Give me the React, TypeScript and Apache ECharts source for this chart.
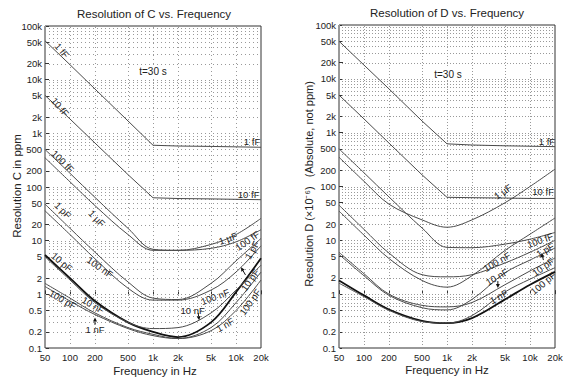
import React, { useEffect, useRef } from "react";
import * as echarts from "echarts";

const FREQ = [50, 100, 200, 500, 1000, 2000, 5000, 10000, 20000];
const X_TICKS = [50, 100, 200, 500, 1000, 2000, 5000, 10000, 20000];
const X_TICK_LABELS = ["50", "100", "200", "500", "1k", "2k", "5k", "10k", "20k"];
const Y_TICKS = [0.1, 0.2, 0.5, 1, 2, 5, 10, 20, 50, 100, 200, 500, 1000, 2000, 5000, 10000, 20000, 50000, 100000];
const Y_TICK_LABELS = ["0.1", "0.2", "0.5", "1", "2", "5", "10", "20", "50", "100", "200", "500", "1k", "2k", "5k", "10k", "20k", "50k", "100k"];

// Resolution of C (ppm) at FREQ
const C_1fF = [53000, 19000, 6700, 1700, 600, 580, 570, 560, 550];
const C_10fF = [5100, 1850, 660, 170, 63, 61, 60, 59, 58];
const C_100fF = [500, 180, 64, 17, 6.9, 6.6, 7.2, 9.5, 16];
const C_1uF = [350, 125, 45, 13, 6.6, 6.6, 8.5, 13, 26];
const C_1pF = [48, 17, 6.1, 1.7, 0.85, 0.8, 1.6, 4.2, 11];
const C_100nF = [36, 13, 4.6, 1.3, 0.78, 0.78, 1.2, 2.6, 8];
const C_10pF = [5.4, 2.0, 0.75, 0.3, 0.2, 0.16, 0.3, 1.1, 4.7];
const C_10nF = [5.0, 1.85, 0.7, 0.3, 0.23, 0.24, 0.45, 1.2, 3.5];
const C_100pF = [1.6, 0.85, 0.45, 0.24, 0.18, 0.15, 0.24, 0.7, 2.6];
const C_1nF = [1.4, 0.75, 0.42, 0.23, 0.17, 0.15, 0.21, 0.5, 1.85];

// Resolution of D (x1e-6) at FREQ
const D_1fF = [50000, 18000, 6500, 1650, 620, 590, 570, 560, 550];
const D_10fF = [5000, 1800, 640, 165, 63, 62, 61, 60, 60];
const D_100fF = [500, 180, 64, 17, 7.4, 7.3, 8.5, 10.5, 14];
const D_1uF = [350, 125, 47, 24, 17.5, 24, 50, 100, 210];
const D_1pF = [45, 16, 5.8, 2.3, 2.1, 2.3, 3.8, 6, 10];
const D_100nF = [35, 12.5, 4.6, 1.8, 1.35, 2.2, 6.5, 13, 26];
const D_10pF = [6, 2.4, 1.0, 0.62, 0.58, 0.7, 1.5, 2.7, 4.7];
const D_10nF = [5.5, 2.2, 0.95, 0.56, 0.51, 0.8, 2.5, 4.3, 7.2];
const D_100pF = [1.8, 0.95, 0.52, 0.32, 0.29, 0.36, 0.8, 1.5, 2.6];
const D_1nF = [1.6, 0.9, 0.5, 0.31, 0.29, 0.4, 1.1, 1.9, 3.1];

const C_CURVES = [
  { name: "1 fF", v: C_1fF, smooth: false, w: 1 },
  { name: "10 fF", v: C_10fF, smooth: false, w: 1 },
  { name: "100 fF", v: C_100fF, smooth: true, w: 1 },
  { name: "1 µF", v: C_1uF, smooth: true, w: 1 },
  { name: "1 pF", v: C_1pF, smooth: true, w: 1 },
  { name: "100 nF", v: C_100nF, smooth: true, w: 1 },
  { name: "10 pF", v: C_10pF, smooth: true, w: 1.8 },
  { name: "10 nF", v: C_10nF, smooth: true, w: 1 },
  { name: "100 pF", v: C_100pF, smooth: true, w: 1 },
  { name: "1 nF", v: C_1nF, smooth: true, w: 1 },
];
const D_CURVES = [
  { name: "1 fF", v: D_1fF, smooth: false, w: 1 },
  { name: "10 fF", v: D_10fF, smooth: false, w: 1 },
  { name: "100 fF", v: D_100fF, smooth: true, w: 1 },
  { name: "1 µF", v: D_1uF, smooth: true, w: 1 },
  { name: "1 pF", v: D_1pF, smooth: true, w: 1 },
  { name: "100 nF", v: D_100nF, smooth: true, w: 1 },
  { name: "10 pF", v: D_10pF, smooth: true, w: 1 },
  { name: "10 nF", v: D_10nF, smooth: true, w: 1 },
  { name: "100 pF", v: D_100pF, smooth: true, w: 1.8 },
  { name: "1 nF", v: D_1nF, smooth: true, w: 1 },
];

// curve labels: [text, freq, value, angle in degrees (positive = rising)]
const C_LABELS: [string, number, number, number][] = [
  ["1 fF", 80, 35000, -50],
  ["10 fF", 76, 3100, -50],
  ["100 fF", 82, 300, -45],
  ["1 µF", 211, 26, -45],
  ["1 pF", 82, 37, -45],
  ["10 pF", 80, 4, -40],
  ["100 nF", 230, 3.2, -35],
  ["100 pF", 82, 0.8, -30],
  ["10 nF", 190, 0.63, -30],
  ["1 nF", 200, 0.22, 0],
  ["1 fF", 15600, 690, 0],
  ["10 fF", 14200, 72, 0],
  ["1 µF", 8000, 11, 20],
  ["100 fF", 13700, 10, 35],
  ["1 pF", 15600, 6.7, 60],
  ["100 nF", 5600, 0.9, 20],
  ["10 pF", 14800, 1.85, 55],
  ["100 pF", 14800, 0.72, 55],
  ["10 nF", 3000, 0.51, 0],
  ["1 nF", 7400, 0.27, 30],
];
const D_LABELS: [string, number, number, number][] = [
  ["1 fF", 16000, 680, 0],
  ["10 fF", 14400, 80, 0],
  ["1 µF", 4700, 80, 35],
  ["100 fF", 13200, 10, 20],
  ["1 pF", 15200, 6.6, 30],
  ["10 pF", 14400, 3.2, 35],
  ["100 pF", 14400, 1.6, 40],
  ["100 nF", 4000, 4.0, 30],
  ["10 nF", 4000, 2.1, 30],
  ["1 nF", 4200, 0.9, 30],
];

// arrows: [fromFreq, fromValue, toFreq, toValue]
const C_ARROWS: [number, number, number, number][] = [
  [200, 0.27, 200, 0.37],
  [3500, 0.45, 3600, 0.33],
  [13000, 2.3, 11500, 3.2],
];
const D_ARROWS: [number, number, number, number][] = [
  [4100, 1.75, 4100, 1.3],
  [14500, 4.3, 13800, 5.8],
];

const Y_GRID: number[] = [];
for (let e = -1; e <= 4; e++) {
  for (let k = 1; k <= 9; k++) Y_GRID.push(k * Math.pow(10, e));
}
Y_GRID.push(100000);

const FONT = "'Liberation Sans', Arial, Helvetica, sans-serif";
const L10 = (v: number) => Math.log10(v);
const XMIN = L10(50);
const XMAX = L10(20000);
const YMIN = -1;
const YMAX = 5;

function nearestLabel(ticks: number[], labels: string[], v: number) {
  let best = 0;
  ticks.forEach((t, i) => {
    if (Math.abs(L10(t) - v) < Math.abs(L10(ticks[best]) - v)) best = i;
  });
  return labels[best];
}

function axes(gi: number) {
  const common = {
    type: "value",
    gridIndex: gi,
    axisLine: { show: false },
    splitLine: { show: false },
  };
  const xAxis = {
    ...common,
    min: XMIN,
    max: XMAX,
    axisTick: { show: true, inside: true, length: 4, customValues: X_TICKS.map(L10), lineStyle: { color: "#333" } },
    axisLabel: {
      customValues: X_TICKS.map(L10),
      formatter: (v: number) => nearestLabel(X_TICKS, X_TICK_LABELS, v),
      fontSize: 9.5,
      color: "#222",
      fontFamily: FONT,
      margin: 4,
      showMinLabel: true,
      showMaxLabel: true,
    },
  };
  const yAxis = {
    ...common,
    min: YMIN,
    max: YMAX,
    axisTick: { show: true, inside: true, length: 4, customValues: Y_TICKS.map(L10), lineStyle: { color: "#333" } },
    axisLabel: {
      customValues: Y_TICKS.map(L10),
      formatter: (v: number) => nearestLabel(Y_TICKS, Y_TICK_LABELS, v),
      fontSize: 9.5,
      color: "#222",
      fontFamily: FONT,
      margin: 3,
      showMinLabel: true,
      showMaxLabel: true,
    },
  };
  return { xAxis, yAxis };
}

function gridSeries(gi: number, dash: number[], color: string) {
  const lineStyle = { stroke: color, lineWidth: 1, lineDash: dash };
  const h = {
    type: "custom",
    xAxisIndex: gi,
    yAxisIndex: gi,
    silent: true,
    z: 1,
    clip: false,
    data: Y_GRID.map((v) => [XMIN, L10(v)]),
    renderItem: (params: any, api: any) => {
      const y = api.value(1);
      const p1 = api.coord([XMIN, y]);
      const p2 = api.coord([XMAX, y]);
      const yy = Math.round(p1[1]) + 0.5;
      return { type: "line", shape: { x1: p1[0], y1: yy, x2: p2[0], y2: yy }, style: lineStyle };
    },
  };
  const v = {
    type: "custom",
    xAxisIndex: gi,
    yAxisIndex: gi,
    silent: true,
    z: 1,
    clip: false,
    data: X_TICKS.slice(1, -1).map((f) => [L10(f), YMIN]),
    renderItem: (params: any, api: any) => {
      const x = api.value(0);
      const p1 = api.coord([x, YMIN]);
      const p2 = api.coord([x, YMAX]);
      const xx = Math.round(p1[0]) + 0.5;
      return { type: "line", shape: { x1: xx, y1: p1[1], x2: xx, y2: p2[1] }, style: lineStyle };
    },
  };
  return [h, v];
}

function curveSeries(gi: number, curves: any[]) {
  return curves.map((c) => ({
    type: "line",
    name: c.name,
    xAxisIndex: gi,
    yAxisIndex: gi,
    showSymbol: false,
    symbol: "none",
    smooth: c.smooth ? 0.35 : false,
    z: 3,
    lineStyle: { color: c.w > 1 ? "#111" : "#4a4a4a", width: c.w },
    data: FREQ.map((f, i) => [L10(f), L10(c.v[i])]),
  }));
}

function labelSeries(gi: number, labels: [string, number, number, number][]) {
  return {
    type: "custom",
    xAxisIndex: gi,
    yAxisIndex: gi,
    silent: true,
    z: 5,
    clip: false,
    data: labels.map((l) => [L10(l[1]), L10(l[2])]),
    renderItem: (params: any, api: any) => {
      const l = labels[params.dataIndex];
      const p = api.coord([api.value(0), api.value(1)]);
      return {
        type: "text",
        x: p[0],
        y: p[1],
        rotation: (l[3] * Math.PI) / 180,
        style: { text: l[0], fontSize: 9.5, fontFamily: FONT, fill: "#222", align: "center", verticalAlign: "middle" },
      };
    },
  };
}

function arrowSeries(gi: number, arrows: [number, number, number, number][]) {
  return {
    type: "custom",
    xAxisIndex: gi,
    yAxisIndex: gi,
    silent: true,
    z: 6,
    clip: false,
    data: arrows.map((a) => [L10(a[0]), L10(a[1]), L10(a[2]), L10(a[3])]),
    renderItem: (params: any, api: any) => {
      const p1 = api.coord([api.value(0), api.value(1)]);
      const p2 = api.coord([api.value(2), api.value(3)]);
      const dx = p2[0] - p1[0];
      const dy = p2[1] - p1[1];
      const len = Math.sqrt(dx * dx + dy * dy) || 1;
      const ux = dx / len;
      const uy = dy / len;
      const hl = 4;
      const hw = 2;
      const bx = p2[0] - ux * hl;
      const by = p2[1] - uy * hl;
      return {
        type: "group",
        children: [
          { type: "line", shape: { x1: p1[0], y1: p1[1], x2: bx, y2: by }, style: { stroke: "#111", lineWidth: 1 } },
          {
            type: "polygon",
            shape: { points: [[p2[0], p2[1]], [bx - uy * hw, by + ux * hw], [bx + uy * hw, by - ux * hw]] },
            style: { fill: "#111" },
          },
        ],
      };
    },
  };
}

export default function App() {
  const ref = useRef<HTMLDivElement>(null);
  useEffect(() => {
    if (!ref.current) return;
    const chart = echarts.init(ref.current, undefined, { renderer: "svg" });
    const a0 = axes(0);
    const a1 = axes(1);
    const txt = (text: string, x: number, y: number, size: number, rot = 0, extra: any = {}) => ({
      type: "text",
      x,
      y,
      rotation: rot,
      z: 10,
      style: { text, fontSize: size, fontFamily: FONT, fill: "#222", align: "center", verticalAlign: "middle", ...extra },
    });
    const option: any = {
      animation: false,
      backgroundColor: "#fff",
      grid: [
        { left: 45, top: 26, width: 216, height: 322, show: true, borderColor: "#333", borderWidth: 1, backgroundColor: "transparent" },
        { left: 339, top: 25, width: 216, height: 323, show: true, borderColor: "#333", borderWidth: 1, backgroundColor: "transparent" },
      ],
      xAxis: [a0.xAxis, a1.xAxis],
      yAxis: [a0.yAxis, a1.yAxis],
      series: [
        ...gridSeries(0, [1, 3], "#999"),
        ...gridSeries(1, [1, 2], "#999"),
        ...curveSeries(0, C_CURVES),
        ...curveSeries(1, D_CURVES),
        labelSeries(0, C_LABELS),
        labelSeries(1, D_LABELS),
        arrowSeries(0, C_ARROWS),
        arrowSeries(1, D_ARROWS),
      ],
      graphic: [
        txt("Resolution of C vs. Frequency", 154, 14, 11.5),
        txt("Resolution of D vs. Frequency", 447, 13, 11.5),
        txt("Frequency in Hz", 155, 371, 11.5),
        txt("Frequency in Hz", 447, 370, 11.5),
        txt("Resolution C in ppm", 17, 186, 11.5, Math.PI / 2),
        txt("Resolution D (×10⁻⁶)   (Absolute, not ppm)", 309, 184, 11, Math.PI / 2),
        txt("t=30 s", 153, 71, 10, 0, { backgroundColor: "#fff", padding: [1, 2] }),
        txt("t=30 s", 448, 74, 10, 0, { backgroundColor: "#fff", padding: [1, 2] }),
      ],
    };
    chart.setOption(option);
    return () => chart.dispose();
  }, []);
  return <div ref={ref} style={{ width: 580, height: 386, margin: -8 }} />;
}
